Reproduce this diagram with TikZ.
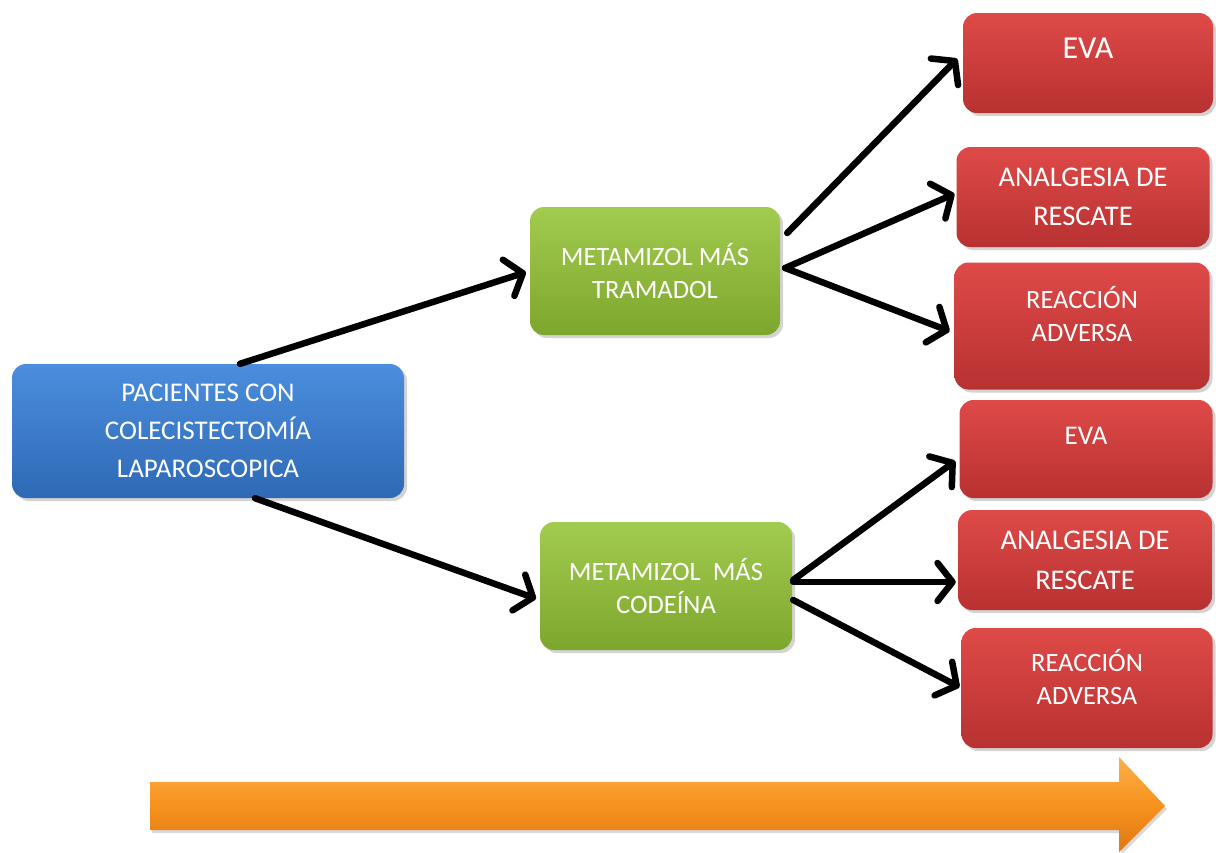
\documentclass[tikz,border=0pt]{standalone}
\usepackage{fontspec}
\setmainfont{Carlito}
\usetikzlibrary{arrows.meta,shadows,calc}
\definecolor{bluetop}{HTML}{4B8EDD}
\definecolor{bluebot}{HTML}{2E69B5}
\definecolor{greentop}{HTML}{A2CC50}
\definecolor{greenbot}{HTML}{7DA62C}
\definecolor{redtop}{HTML}{DE4A48}
\definecolor{redbot}{HTML}{B83131}
\definecolor{orangetop}{HTML}{FCB04A}
\definecolor{orangemid}{HTML}{F7931E}
\definecolor{orangebot}{HTML}{DD7812}
\tikzset{
  box/.style={rounded corners=14pt, draw=none, text=white, align=center,
    drop shadow={opacity=0.35, shadow xshift=3pt, shadow yshift=-3pt},
    font=\fontsize{27}{38}\selectfont},
  bluebox/.style={box, top color=bluetop, bottom color=bluebot},
  greenbox/.style={box, top color=greentop, bottom color=greenbot},
  redbox/.style={box, top color=redtop, bottom color=redbot},
  lbl/.style={text=white, align=center},
  arr/.style={line width=6.5pt, line cap=round, black,
    -{Straight Barb[length=15pt,width=38pt,round]}},
}
\begin{document}
\begin{tikzpicture}[x=1pt,y=-1pt]
\useasboundingbox (0,0) rectangle (1216,852);
% boxes
\node[bluebox, minimum width=392pt, minimum height=134pt] (b) at (208,431)
  {PACIENTES CON\\COLECISTECTOMÍA\\LAPAROSCOPICA};
\node[greenbox, minimum width=250pt, minimum height=128pt, font=\fontsize{26.5}{33}\selectfont] (g1) at (655,271)
  {METAMIZOL MÁS\\TRAMADOL};
\node[greenbox, minimum width=252pt, minimum height=128pt, font=\fontsize{26.5}{33}\selectfont] (g2) at (666,586)
  {METAMIZOL\ \ MÁS\\CODEÍNA};
\node[redbox, minimum width=250pt, minimum height=100pt,
  label={[lbl, font=\fontsize{32}{37}\selectfont, yshift=15pt]center:EVA}] (r1) at (1088,63) {};
\node[redbox, minimum width=253pt, minimum height=100pt, font=\fontsize{28.5}{39}\selectfont] (r2) at (1083,197)
  {ANALGESIA DE\\RESCATE};
\node[redbox, minimum width=255pt, minimum height=127pt,
  label={[lbl, font=\fontsize{26.5}{33}\selectfont, yshift=12pt]center:REACCIÓN\\ADVERSA}] (r3) at (1082,326) {};
\node[redbox, minimum width=253pt, minimum height=98pt,
  label={[lbl, font=\fontsize{27}{33}\selectfont, yshift=13pt]center:EVA}] (r4) at (1086,449) {};
\node[redbox, minimum width=254pt, minimum height=100pt, font=\fontsize{28.5}{40}\selectfont] (r5) at (1085,560)
  {ANALGESIA DE\\RESCATE};
\node[redbox, minimum width=251pt, minimum height=120pt,
  label={[lbl, font=\fontsize{26.5}{33}\selectfont, yshift=11pt]center:REACCIÓN\\ADVERSA}] (r6) at (1087,688) {};
% connectors
\draw[arr, shorten >=4pt] ([xshift=32pt]b.north) -- (g1.west);
\draw[arr, shorten >=4pt] ([xshift=47pt]b.south) -- ([yshift=-14pt]g2.west);
\draw[arr, shorten >=8pt] ([xshift=7pt,yshift=38pt]g1.east) -- ([yshift=10pt]r1.west);
\draw[arr, shorten >=2pt] ([xshift=5pt,yshift=3pt]g1.east) -- ([yshift=4pt]r2.west);
\draw[arr, shorten >=5pt] ([xshift=5pt,yshift=3pt]g1.east) -- ([yshift=-7pt]r3.west);
\draw[arr, shorten >=5pt] ([xshift=1pt,yshift=6pt]g2.east) -- ([yshift=-9pt]r4.west);
\draw[arr, shorten >=2pt] ([xshift=1pt,yshift=4pt]g2.east) -- ([yshift=-22pt]r5.west);
\draw[arr, shorten >=2pt] ([xshift=1pt,yshift=-14pt]g2.east) -- (r6.west);
% orange arrow
\path[top color=orangetop, bottom color=orangebot, middle color=orangemid,
  drop shadow={opacity=0.3, shadow xshift=2pt, shadow yshift=-3pt}]
  (150,782) coordinate (oa) -- (1119,782) -- (1119,757) -- (1165,806) coordinate (ob)
  -- (1119,852) -- (1119,830) -- (150,830) -- cycle;
\end{tikzpicture}
\end{document}
